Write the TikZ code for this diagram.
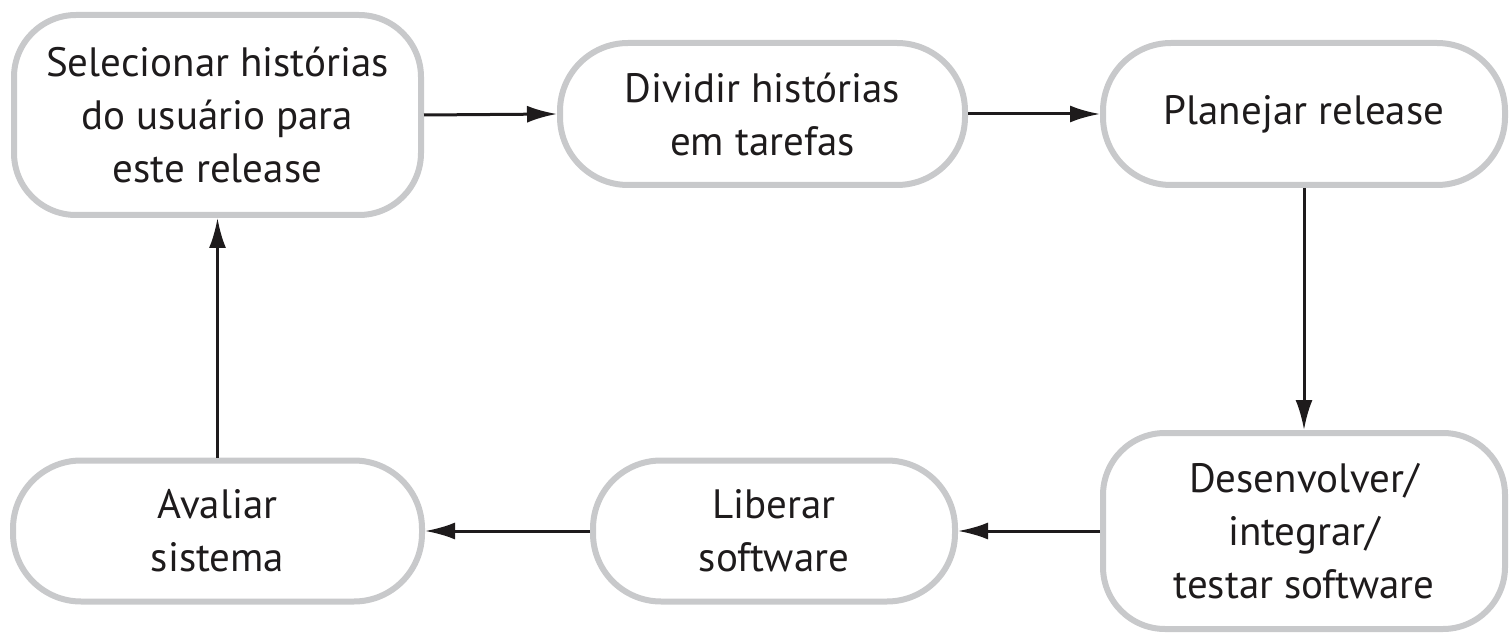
\documentclass[tikz,border=0pt]{standalone}
\usepackage{fontspec}
\setmainfont{PT Sans}
\usetikzlibrary{arrows.meta}
\definecolor{boxgray}{RGB}{200,201,203}
\definecolor{txt}{RGB}{30,27,28}
\tikzset{
  stepbox/.style={draw=boxgray, line width=6pt, fill=white, align=center,
    inner sep=0pt, font=\fontsize{41}{53}\selectfont, text=txt},
  flow/.style={line width=3pt, draw=txt, -{Latex[length=30pt,width=17pt]}}
}
\begin{document}
\begin{tikzpicture}[x=1pt,y=-1pt]
\useasboundingbox (0,0) rectangle (1512,636);
\node[stepbox, rounded corners=62pt, minimum width=407pt, minimum height=200pt] (sel) at (217.5,115) {Selecionar histórias\\do usuário para\\este release};
\node[stepbox, rounded corners=68pt, minimum width=405pt, minimum height=142pt] (div) at (762.5,114) {Dividir histórias\\em tarefas};
\node[stepbox, rounded corners=68pt, minimum width=402pt, minimum height=142pt] (pla) at (1304,114) {Planejar release};
\node[stepbox, rounded corners=62pt, minimum width=402pt, minimum height=196pt] (dev) at (1304,531) {Desenvolver/\\integrar/\\testar software};
\node[stepbox, rounded corners=68pt, minimum width=362pt, minimum height=141pt] (lib) at (774,531) {Liberar\\software};
\node[stepbox, rounded corners=68pt, minimum width=409pt, minimum height=141pt] (ava) at (217.5,531) {Avaliar\\sistema};
\draw[flow] (sel.east) -- (div.west);
\draw[flow] (div.east) -- (pla.west);
\draw[flow] (pla.south) -- (dev.north);
\draw[flow] (dev.west) -- (lib.east);
\draw[flow] (lib.west) -- (ava.east);
\draw[flow] (ava.north) -- (sel.south);
\end{tikzpicture}
\end{document}
